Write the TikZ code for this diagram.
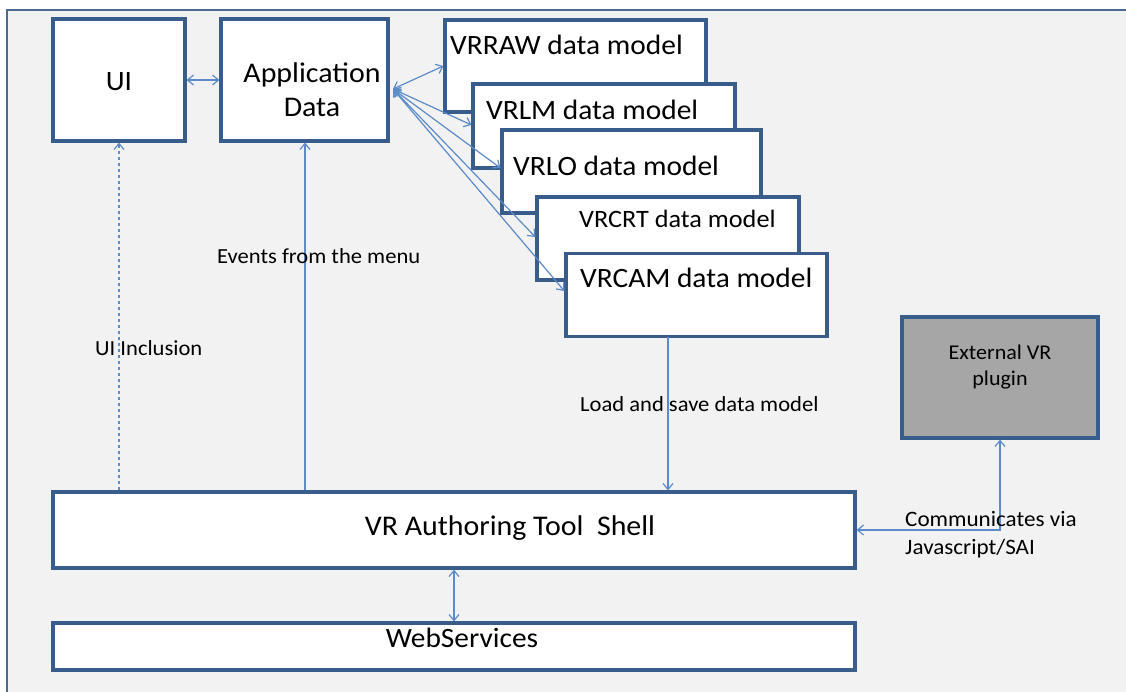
\documentclass[tikz,border=0pt]{standalone}
\usepackage{fontspec}
\setmainfont{Carlito}[FakeStretch=1.05]
\usetikzlibrary{arrows.meta}
\definecolor{boxline}{HTML}{385D8A}
\definecolor{arrowc}{HTML}{5B8BC8}
\definecolor{bgc}{HTML}{F2F2F2}
\definecolor{frame}{HTML}{4A6A8F}
\definecolor{extfill}{HTML}{A6A6A6}
\tikzset{
  box/.style={draw=boxline, line width=3.2pt, fill=white, inner sep=0pt},
  boxtxt/.style={font=\fontsize{28}{32}\selectfont, inner sep=0pt, anchor=west},
  lbl/.style={font=\fontsize{21.5}{24}\selectfont, inner sep=0pt, anchor=west},
  conn/.style={draw=arrowc, line width=1.2pt},
  tip/.style={arrows={-Straight Barb[length=6pt,width=10pt]}},
  tips/.style={arrows={Straight Barb[length=6pt,width=10pt]-Straight Barb[length=6pt,width=10pt]}},
}
\begin{document}
\begin{tikzpicture}[x=1pt,y=-1pt]
\useasboundingbox (0,0) rectangle (1126,691);
\fill[white] (0,0) rectangle (1126,691);
\fill[bgc] (7,10) rectangle (1130,700);
\draw[frame, line width=1.8pt] (7,700) -- (7,10) -- (1130,10);

% top boxes
\node[box, minimum width=132pt, minimum height=122pt] (ui) at (119,80) {};
\node[font=\fontsize{28}{32}\selectfont, inner sep=0pt] (uit) at (119,82) {UI};
\node[box, minimum width=167pt, minimum height=122pt] (app) at (304.5,80) {};
\node[font=\fontsize{28.5}{34}\selectfont, align=center, inner sep=0pt] (appt) at (312,90) {Application\\Data};

% data model stack
\node[box, minimum width=261pt, minimum height=92pt] (raw) at (575.5,66) {};
\node[boxtxt] (rawt) at (450,45) {VRRAW data model};
\node[box, minimum width=262pt, minimum height=84pt] (lm) at (604,126) {};
\node[boxtxt] (lmt) at (486,110) {VRLM data model};
\node[box, minimum width=259pt, minimum height=83pt] (lo) at (631.5,171.5) {};
\node[boxtxt] (lot) at (513,166) {VRLO data model};
\node[box, minimum width=262pt, minimum height=83pt] (crt) at (668,238.5) {};
\node[boxtxt, font=\fontsize{25}{30}\selectfont] (crtt) at (579,219) {VRCRT data model};
\node[box, minimum width=261pt, minimum height=83pt] (cam) at (696.5,295) {};
\node[boxtxt] (camt) at (580,278) {VRCAM data model};

% external plugin
\node[box, fill=extfill, minimum width=196pt, minimum height=121pt] (ext) at (1000,377.5) {};
\node[font=\fontsize{21}{26}\selectfont, align=center, inner sep=0pt] (extt) at (1000,367) {External VR\\plugin};

% bottom boxes
\node[box, minimum width=802pt, minimum height=76pt] (shell) at (454,530) {};
\node[font=\fontsize{28.5}{32}\selectfont, inner sep=0pt] (shellt) at (510,528) {VR Authoring Tool\ \ Shell};
\node[box, minimum width=802pt, minimum height=47pt] (web) at (454,646.5) {};
\node[font=\fontsize{28}{32}\selectfont, inner sep=0pt] (webt) at (462,638) {WebServices};

% connectors
\draw[conn, tips] (ui.east) -- (app.west);
\coordinate (hub) at (393,89);
\draw[conn, tips] (hub) -- (raw.west |- 0,66);
\draw[conn, tips] (hub) -- (lm.west |- 0,125);
\draw[conn, tips] (hub) -- (lo.west |- 0,168);
\draw[conn, tips] (hub) -- (crt.west |- 0,237);
\draw[conn, tips] (hub) -- (cam.west |- 0,291);

\draw[conn, tip, dashed] (shell.north -| ui.south) -- (ui.south);
\draw[conn, tip] (shell.north -| 305,0) -- (app.south -| 305,0);
\coordinate (ls) at (668,337);
\draw[conn, tip] (ls) -- (ls |- shell.north);
\draw[conn, tips] (ext.south) |- (shell.east);
\draw[conn, tips] (shell.south) -- (web.north);

% labels
\node[lbl] (l1) at (217,256) {Events from the menu};
\node[lbl] (l2) at (95,348) {UI Inclusion};
\node[lbl] (l3) at (580,404) {Load and save data model};
\node[lbl, font=\fontsize{22}{28}\selectfont, align=left, anchor=north west] (l4) at (905,511) {Communicates via\\Javascript/SAI};
\end{tikzpicture}
\end{document}
